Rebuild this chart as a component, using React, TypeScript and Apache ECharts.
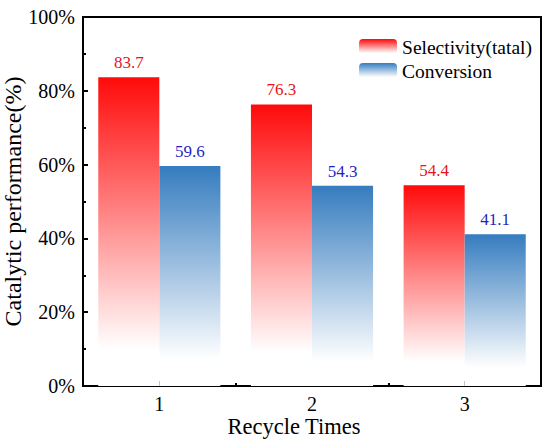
import React, { useEffect, useRef } from "react";
import * as echarts from "echarts";

const categories = ["1", "2", "3"];
const selectivity = [83.7, 76.3, 54.4];
const conversion = [59.6, 54.3, 41.1];
const yTicks = [0, 20, 40, 60, 80, 100];

const FONT = "Liberation Serif";

export default function App() {
  const ref = useRef<HTMLDivElement>(null);
  useEffect(() => {
    if (!ref.current) return;
    const chart = echarts.init(ref.current, null, { renderer: "svg" });
    const redGrad = new echarts.graphic.LinearGradient(0, 0, 0, 1, [
      { offset: 0, color: "#ff0a0a" },
      { offset: 0.88, color: "#ffffff" },
      { offset: 1, color: "#ffffff" },
    ]);
    const blueGrad = new echarts.graphic.LinearGradient(0, 0, 0, 1, [
      { offset: 0, color: "#357cbf" },
      { offset: 0.88, color: "#ffffff" },
      { offset: 1, color: "#ffffff" },
    ]);
    chart.setOption({
      animation: false,
      backgroundColor: "#ffffff",
      textStyle: { fontFamily: FONT },
      grid: {
        left: 83,
        right: 9,
        top: 17,
        bottom: 59,
        containLabel: false,
        outerBoundsMode: "none",
        show: true,
        borderColor: "#000",
        borderWidth: 2,
        backgroundColor: "transparent",
      },
      legend: {
        orient: "vertical",
        right: 13,
        top: 32,
        itemWidth: 38,
        itemHeight: 16,
        itemGap: 4,
        textStyle: { fontFamily: FONT, fontSize: 19.5, color: "#000" },
        data: ["Selectivity(tatal)", "Conversion"],
      },
      xAxis: [
        {
          type: "category",
          data: categories,
          position: "bottom",
          name: "Recycle Times",
          nameLocation: "middle",
          nameGap: 29,
          nameMoveOverlap: false,
          nameTextStyle: { fontFamily: FONT, fontSize: 22.5, color: "#000", padding: [0, 36, 0, 0] },
          axisLine: { lineStyle: { color: "#000", width: 2 } },
          axisTick: { show: true, interval: 0, inside: true, length: 3, lineStyle: { color: "#000", width: 2 } },
          axisLabel: { fontFamily: FONT, fontSize: 20, color: "#000", margin: 8 },
          splitLine: { show: false },
        },
        {
          type: "category",
          data: categories,
          position: "bottom",
          axisLine: { show: false },
          axisTick: { show: true, alignWithLabel: true, inside: true, length: 5, lineStyle: { color: "#000", width: 2 } },
          axisLabel: { show: false },
          splitLine: { show: false },
        },
      ],
      yAxis: {
        type: "value",
        min: yTicks[0],
        max: yTicks[yTicks.length - 1],
        interval: 20,
        name: "Catalytic performance(%)",
        nameLocation: "middle",
        nameGap: 58,
        nameMoveOverlap: false,
        nameTextStyle: { fontFamily: FONT, fontSize: 24, color: "#000" },
        axisLine: { show: true, lineStyle: { color: "#000", width: 2 } },
        axisTick: { show: true, inside: true, length: 5, lineStyle: { color: "#000", width: 2 } },
        minorTick: { show: true, splitNumber: 2, length: 3, lineStyle: { color: "#000", width: 2 } },
        axisLabel: { fontFamily: FONT, fontSize: 20, color: "#000", margin: 8, formatter: "{value}%" },
        splitLine: { show: false },
      },
      series: [
        {
          name: "Selectivity(tatal)",
          type: "bar",
          data: selectivity,
          barCategoryGap: "20%",
          barGap: "0%",
          itemStyle: { color: redGrad },
          label: {
            show: true,
            position: "top",
            distance: 6,
            fontFamily: FONT,
            fontSize: 17,
            color: "#e8141a",
          },
        },
        {
          name: "Conversion",
          type: "bar",
          data: conversion,
          barCategoryGap: "20%",
          barGap: "0%",
          itemStyle: { color: blueGrad },
          label: {
            show: true,
            position: "top",
            distance: 6,
            fontFamily: FONT,
            fontSize: 17,
            color: "#1f1fc4",
          },
        },
      ],
    });
    return () => chart.dispose();
  }, []);
  return (
    <div
      ref={ref}
      style={{ position: "fixed", left: 0, top: 0, width: 550, height: 445, background: "#fff" }}
    />
  );
}
